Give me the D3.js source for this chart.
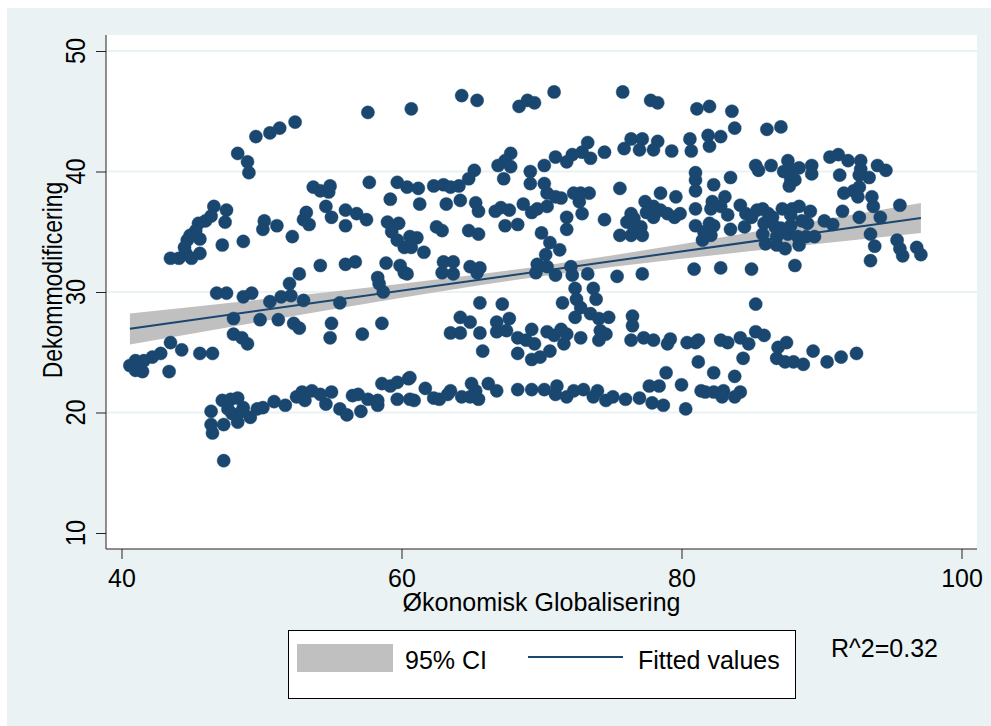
<!DOCTYPE html>
<html>
<head>
<meta charset="utf-8">
<script src="https://cdn.jsdelivr.net/npm/d3@7/dist/d3.min.js"></script>
<style>
  body { margin: 0; background: #fff; }
  text { font-family: "Liberation Sans", Arial, sans-serif; fill: #000; }
</style>
</head>
<body>
<div id="chart"></div>
<script>
// axis ticks
var xTicks = [40, 60, 80, 100];
var yTicks = [10, 20, 30, 40, 50];
var gridTicks = [20, 30, 40, 50];

// scatter: Økonomisk Globalisering (x) vs Dekommodificering (y)
var okonomisk = [
  57.6,60.7,52.4,51.3,50.6,49.6,48.3,49.0,49.1,53.7,54.2,54.9,54.8,57.7,59.7,60.4,59.2,54.6,56.0,56.8,
  57.5,55.0,56.0,53.2,53.0,53.4,50.2,51.1,50.1,52.2,59.0,59.8,59.3,59.7,60.2,46.6,47.5,47.4,46.4,46.0,
  45.5,45.3,44.9,44.7,44.5,44.6,45.6,45.6,45.0,43.5,44.1,47.2,48.7,54.2,56.0,56.7,52.7,52.0,52.1,58.9,
  59.9,58.3,58.4,58.7,46.8,47.5,48.7,49.3,50.6,51.4,53.0,55.6,60.2,
  48.0,49.9,51.2,52.3,52.7,55.0,54.9,57.2,58.6,48.0,48.6,49.0,43.5,44.3,45.6,46.5,42.8,42.2,41.6,41.0,
  40.6,41.0,41.5,43.4,41.1,46.4,47.2,47.8,48.3,46.4,46.5,47.3,47.9,48.3,48.7,49.2,49.7,50.1,47.3,50.9,
  51.7,52.5,52.9,53.1,53.6,54.2,54.6,55.0,55.6,56.1,56.5,56.9,57.1,57.6,58.3,58.3,58.6,59.2,59.7,59.7,
  60.5,60.6,47.6,48.6,
  64.3,65.4,68.4,69.0,69.5,70.9,75.8,77.8,78.3,81.1,73.3,72.9,73.5,72.2,71.8,71.0,70.2,74.5,75.9,76.4,
  77.2,77.0,78.3,78.0,79.3,80.6,80.7,67.8,67.4,67.8,66.9,67.3,65.2,64.8,69.2,69.2,70.2,70.4,71.0,71.4,
  72.3,72.8,73.4,72.7,72.9,75.6,61.2,62.3,63.0,63.5,64.1,61.3,63.2,64.2,65.3,65.5,66.7,67.1,67.7,68.7,
  69.3,69.7,70.4,71.8,71.8,74.5,62.5,62.9,67.4,68.3,64.8,65.5,70.0,70.6,71.3,60.6,61.1,60.7,61.6,60.4,
  63.0,63.7,62.9,63.7,64.9,65.6,65.4,70.3,69.7,69.6,70.4,71.0,72.1,72.2,73.3,75.4,77.2,80.9,72.4,72.5,
  73.7,73.9,65.6,67.2,71.5,76.4,76.6,76.1,77.4,77.5,78.0,78.5,78.5,79.0,79.5,79.6,79.9,78.0,77.1,75.6,
  76.4,77.2,76.6,81.0,81.0,81.0,81.0,81.0,
  72.8,64.2,64.9,63.5,64.2,65.6,65.8,66.8,67.7,66.8,67.5,68.3,68.3,68.9,69.3,69.5,69.3,69.9,70.4,70.9,
  70.6,71.4,71.6,71.8,72.4,72.8,73.5,74.1,74.8,74.2,74.6,74.1,76.5,76.5,76.4,77.3,78.0,79.0,79.2,80.4,
  81.0,81.2,60.6,60.9,61.7,62.3,62.7,63.5,63.3,64.3,64.9,65.0,65.3,65.5,66.2,66.8,68.3,69.3,70.2,71.1,
  71.0,71.8,72.3,73.0,73.7,74.0,74.6,75.1,76.0,77.0,77.7,78.4,77.9,78.7,78.9,80.0,80.3,81.4,
  82.0,83.6,83.8,86.1,87.1,81.9,82.0,82.8,82.3,83.5,85.3,85.5,86.4,87.6,87.3,87.8,88.4,87.8,88.1,87.7,
  89.3,89.3,90.6,91.2,91.9,91.3,92.8,92.8,93.4,94.0,94.6,92.7,91.6,92.3,92.7,92.6,93.6,93.7,95.6,91.5,
  92.7,94.2,93.5,93.8,93.5,95.4,95.8,95.6,96.8,97.1,82.2,83.1,82.1,82.8,83.3,84.2,84.6,82.0,82.3,81.6,
  81.5,82.1,83.5,84.5,85.4,85.8,86.2,85.0,87.2,87.9,88.4,89.2,87.8,88.6,89.0,90.2,90.8,85.9,86.5,85.8,
  86.0,86.7,87.1,86.8,86.8,87.6,87.4,87.8,88.3,88.4,88.9,89.5,82.8,85.0,88.1,85.3,
  81.2,82.8,83.3,84.2,84.8,85.3,85.9,84.4,82.3,83.8,81.7,82.3,83.0,82.9,83.8,84.2,86.9,87.5,86.8,87.4,
  88.0,88.7,89.4,90.4,91.4,92.5
];
var dekom = [
  44.9,45.2,44.1,43.6,43.2,42.9,41.5,40.8,39.9,38.7,38.4,38.8,38.3,39.1,39.1,38.7,37.7,37.1,36.8,36.5,
  36.0,36.2,35.5,36.6,36.0,35.6,35.9,35.5,35.2,34.6,35.8,35.7,35.0,34.3,33.7,37.1,36.8,35.8,36.3,35.9,
  35.7,35.1,34.7,34.3,33.7,33.2,34.4,33.2,32.8,32.8,32.8,33.9,34.2,32.2,32.3,32.5,31.5,30.7,29.7,32.4,
  32.2,31.2,30.7,30.0,29.9,29.9,29.6,29.9,29.2,29.6,29.3,29.1,31.6,
  27.8,27.7,27.7,27.4,27.0,27.4,26.2,26.5,27.4,26.5,26.2,25.7,25.8,25.2,24.9,24.9,24.9,24.6,24.3,24.3,
  23.9,23.5,23.4,23.4,23.9,20.1,21.0,21.1,21.2,19.0,18.3,19.0,19.9,19.2,20.4,19.6,20.3,20.4,16.0,20.9,
  20.6,21.3,21.7,21.0,21.8,21.5,20.7,21.7,20.3,19.8,21.4,21.5,20.1,21.1,20.6,21.0,22.4,22.2,22.5,21.1,
  22.8,21.1,20.3,20.1,
  46.3,45.9,45.4,45.9,45.7,46.6,46.6,45.9,45.7,45.2,42.4,41.6,41.1,41.4,40.8,41.2,40.5,41.6,41.9,42.7,
  42.7,41.8,42.5,41.8,41.7,42.7,41.7,41.5,40.9,40.4,40.5,39.4,40.1,39.4,40.0,39.0,39.0,38.2,37.9,37.8,
  38.2,38.2,38.2,37.5,36.5,38.6,38.6,38.8,38.9,38.7,38.8,37.3,37.3,37.6,37.4,36.7,36.7,37.0,36.8,37.3,
  36.6,36.9,37.1,36.2,35.2,36.0,35.4,35.1,35.5,35.6,35.1,34.8,34.9,34.1,33.5,34.6,34.5,33.7,33.3,31.5,
  32.5,32.5,31.6,31.5,32.1,32.0,31.6,33.1,32.3,31.6,32.1,31.4,32.1,31.4,31.5,31.3,31.5,31.9,30.3,29.4,
  30.3,29.4,29.1,29.0,29.1,36.5,36.1,35.8,37.5,36.6,37.1,38.2,36.8,36.5,36.2,37.9,36.5,36.2,35.4,34.7,
  34.7,34.7,35.4,36.9,35.5,39.3,39.9,38.4,
  28.7,27.9,27.5,26.6,26.6,26.6,25.1,27.5,27.8,26.7,26.8,26.2,24.9,26.0,26.9,25.7,24.4,24.6,26.7,26.4,
  25.1,26.9,25.7,26.5,27.9,26.2,28.2,27.8,27.9,26.8,26.5,26.0,28.0,27.2,26.0,26.2,26.0,25.7,26.1,25.8,
  25.8,24.2,22.9,21.0,22.0,21.2,21.1,21.8,21.5,21.3,21.3,22.4,21.8,21.1,22.4,21.8,21.9,21.9,21.9,22.2,
  21.5,21.3,21.8,21.9,21.3,21.8,21.0,21.3,21.1,21.2,22.2,22.2,20.8,20.6,23.3,22.3,20.3,21.8,
  45.4,45.0,43.6,43.5,43.7,43.0,42.1,42.9,38.9,39.5,40.5,40.1,40.5,40.9,40.0,40.2,40.3,39.4,39.3,38.8,
  40.5,39.8,41.2,41.4,40.9,39.7,40.9,40.2,39.5,40.5,40.1,39.7,38.2,38.4,38.7,37.9,37.9,37.1,37.2,36.7,
  36.2,36.2,34.8,33.8,32.6,34.3,33.0,33.6,33.7,33.1,37.5,37.9,36.9,37.1,36.4,37.2,36.5,35.7,35.5,35.0,
  34.3,34.7,35.2,35.4,36.8,36.9,36.5,36.2,36.9,36.9,37.1,36.7,36.4,35.9,35.7,35.9,35.6,35.7,36.2,34.8,
  34.0,35.4,35.3,34.6,33.9,34.8,33.6,35.5,34.6,33.9,34.6,34.6,32.0,31.9,32.2,29.0,
  26.0,26.0,25.8,26.2,25.7,26.7,26.4,24.5,23.3,23.0,21.7,21.7,21.8,21.3,21.3,21.7,25.4,25.8,24.5,24.2,
  24.2,24.0,25.1,24.2,24.6,24.9
];

// fitted values and 95% CI band
var fitX = [40.6, 97.1];
var fitY = [26.95, 36.15];
var ciX = [40.6, 45, 50, 55, 60, 65, 69.4, 75, 80, 85, 90, 97.1];
var ciLow = [25.64, 26.54, 27.55, 28.54, 29.52, 30.46, 31.21, 32.07, 32.75, 33.40, 34.03, 34.90];
var ciHigh = [28.22, 28.76, 29.39, 30.02, 30.68, 31.38, 32.05, 33.03, 33.97, 34.96, 35.97, 37.38];

var width = 991, height = 726;
var plot = { left: 106, top: 35, right: 977, bottom: 549 };
var navy = '#1a476f';

var svg = d3.select('#chart').append('svg')
  .attr('width', width)
  .attr('height', height);

// graph region (light bluish) and white plot region
svg.append('rect')
  .attr('x', 7).attr('y', 8)
  .attr('width', width - 7).attr('height', height - 8)
  .attr('fill', '#eaf2f3');
svg.append('rect')
  .attr('x', plot.left).attr('y', plot.top)
  .attr('width', plot.right - plot.left).attr('height', plot.bottom - plot.top)
  .attr('fill', '#fff');

var x = d3.scaleLinear().domain([40, 100]).range([121.5, 961.5]);
var y = d3.scaleLinear().domain([10, 50]).range([533, 51]);

// grid lines
svg.append('g')
  .selectAll('line')
  .data(gridTicks)
  .enter().append('line')
    .attr('x1', plot.left).attr('x2', plot.right)
    .attr('y1', function(d) { return y(d); })
    .attr('y2', function(d) { return y(d); })
    .attr('stroke', '#eaf2f3')
    .attr('stroke-width', 2);

// CI band
var area = d3.area()
  .x(function(d, i) { return x(ciX[i]); })
  .y0(function(d, i) { return y(ciLow[i]); })
  .y1(function(d, i) { return y(ciHigh[i]); });
svg.append('path')
  .datum(ciX)
  .attr('d', area)
  .attr('fill', '#c0c0c0');

// fitted line
var fitLine = d3.line()
  .x(function(d, i) { return x(fitX[i]); })
  .y(function(d, i) { return y(fitY[i]); });
svg.append('path')
  .datum(fitX)
  .attr('d', fitLine)
  .attr('fill', 'none')
  .attr('stroke', navy)
  .attr('stroke-width', 2);

// scatter points
svg.append('g')
  .selectAll('circle')
  .data(okonomisk)
  .enter().append('circle')
    .attr('cx', function(d) { return x(d); })
    .attr('cy', function(d, i) { return y(dekom[i]); })
    .attr('r', 6.6)
    .attr('fill', navy)
    .attr('stroke', navy)
    .attr('stroke-width', 0.4);

// axis lines
svg.append('line')
  .attr('x1', plot.left).attr('x2', plot.left)
  .attr('y1', plot.top).attr('y2', plot.bottom)
  .attr('stroke', '#222');
svg.append('line')
  .attr('x1', plot.left).attr('x2', plot.right)
  .attr('y1', plot.bottom).attr('y2', plot.bottom)
  .attr('stroke', '#222');

// x axis
var xAxis = svg.append('g')
  .attr('transform', 'translate(0,' + plot.bottom + ')')
  .call(d3.axisBottom(x).tickValues(xTicks).tickSize(10).tickSizeOuter(0).tickPadding(10));
xAxis.select('.domain').remove();
xAxis.attr('font-family', '"Liberation Sans", Arial, sans-serif').attr('font-size', 25);
xAxis.selectAll('line').attr('stroke', '#222');

// y axis (labels rotated like Stata)
var yAxis = svg.append('g')
  .attr('transform', 'translate(' + plot.left + ',0)')
  .call(d3.axisLeft(y).tickValues(yTicks).tickSize(10).tickSizeOuter(0).tickFormat(''));
yAxis.select('.domain').remove();
yAxis.selectAll('line').attr('stroke', '#222');

svg.append('g')
  .selectAll('text')
  .data(yTicks)
  .enter().append('text')
    .attr('transform', function(d) { return 'translate(85,' + y(d) + ') scale(1.2,1) rotate(-90)'; })
    .attr('text-anchor', 'middle')
    .style('font-size', '23.5px')
    .text(function(d) { return d; });

// axis titles
svg.append('text')
  .attr('x', (plot.left + plot.right) / 2)
  .attr('y', 611)
  .attr('text-anchor', 'middle')
  .style('font-size', '25px')
  .text('Økonomisk Globalisering');

svg.append('text')
  .attr('transform', 'translate(62,280) scale(1.2,1) rotate(-90)')
  .attr('text-anchor', 'middle')
  .style('font-size', '23px')
  .text('Dekommodificering');

// legend
var legend = svg.append('g');
legend.append('rect')
  .attr('x', 288.5).attr('y', 630.5)
  .attr('width', 507).attr('height', 68)
  .attr('fill', '#fff')
  .attr('stroke', '#000');
legend.append('rect')
  .attr('x', 297).attr('y', 644)
  .attr('width', 96).attr('height', 28)
  .attr('fill', '#c0c0c0');
legend.append('text')
  .attr('x', 405).attr('y', 669)
  .style('font-size', '25px')
  .text('95% CI');
legend.append('line')
  .attr('x1', 528).attr('x2', 623)
  .attr('y1', 657).attr('y2', 657)
  .attr('stroke', navy)
  .attr('stroke-width', 2);
legend.append('text')
  .attr('x', 638).attr('y', 669)
  .style('font-size', '25px')
  .text('Fitted values');

svg.append('text')
  .attr('x', 831).attr('y', 657)
  .style('font-size', '25px')
  .text('R^2=0.32');
</script>
</body>
</html>
